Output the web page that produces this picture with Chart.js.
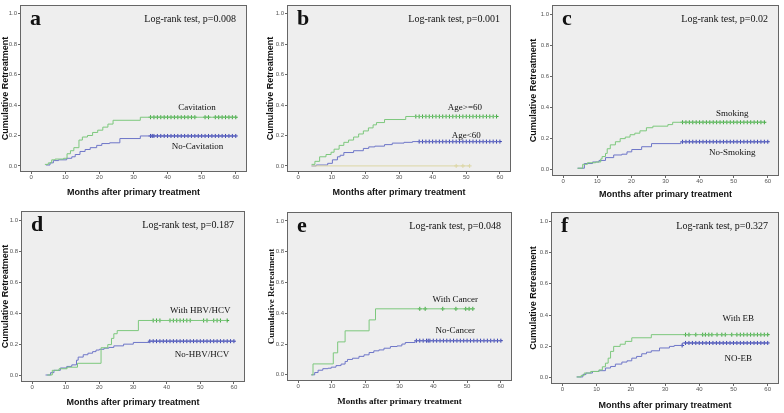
<!DOCTYPE html>
<html>
<head>
<meta charset="utf-8">
<script src="https://cdn.jsdelivr.net/npm/chart.js@4.4.0/dist/chart.umd.min.js"></script>
<style>
  html, body { margin: 0; padding: 0; background: #fff; }
  #wrap { position: relative; width: 784px; height: 413px; overflow: hidden; }
  #wrap canvas { position: absolute; }
</style>
</head>
<body>
<div id="wrap">
  <canvas id="pa"></canvas>
  <canvas id="pb"></canvas>
  <canvas id="pc"></canvas>
  <canvas id="pd"></canvas>
  <canvas id="pe"></canvas>
  <canvas id="pf"></canvas>
</div>
<script>
// ============================================
// DATA (months after primary treatment / cumulative retreatment)
// ============================================
const xTicks = [0, 10, 20, 30, 40, 50, 60];
const yTicks = [0, 0.2, 0.4, 0.6, 0.8, 1.0];

// a - cavitation
const cavTimes = [4, 5, 6, 7, 9.5, 10.5, 11.5, 12.5, 14, 15, 16.5, 18, 19.5, 21, 22.5, 24, 32, 60];
const cavCum = [0.01, 0.02, 0.04, 0.045, 0.05, 0.08, 0.1, 0.12, 0.17, 0.19, 0.2, 0.22, 0.235, 0.255, 0.275, 0.3, 0.32, 0.32];
const cavCensor = [35, 36, 37, 38, 39, 40, 41, 42, 43, 44, 45, 46, 47, 48, 51, 52, 54, 55, 56, 57, 58, 59, 60];
const noCavTimes = [4.3, 5.5, 6.5, 8, 10.4, 11.9, 12.9, 14.3, 15.8, 17.3, 19.2, 20.7, 23, 26, 32, 60];
const noCavCum = [0.006, 0.02, 0.035, 0.04, 0.05, 0.06, 0.075, 0.095, 0.108, 0.12, 0.135, 0.147, 0.152, 0.18, 0.197, 0.197];
const noCavCensor = [35, 35.5, 36, 37, 38, 39, 40, 41, 42, 43, 44, 45, 46, 47, 48, 49, 50, 51, 52, 53, 54, 55, 56, 57, 58, 59, 60];

// b - age
const oldTimes = [4, 5, 6.4, 8.3, 9.8, 10.7, 12.2, 13.6, 15, 16.5, 18, 19.4, 20.9, 22.3, 23.3, 25.7, 32, 59];
const oldCum = [0.01, 0.03, 0.06, 0.075, 0.09, 0.11, 0.135, 0.155, 0.17, 0.19, 0.21, 0.23, 0.25, 0.27, 0.285, 0.305, 0.325, 0.325];
const oldCensor = [35, 36, 37, 38, 39, 40, 41, 42, 43, 44, 45, 46, 47, 48, 49, 50, 51, 52, 53, 54, 55, 56, 57, 58, 59];
const youngTimes = [4, 5.4, 8.8, 10.2, 11.7, 12.5, 13.6, 16.5, 19.4, 21, 22.8, 25.7, 28, 31.5, 34, 60];
const youngCum = [0, 0.006, 0.017, 0.04, 0.06, 0.07, 0.088, 0.1, 0.115, 0.125, 0.13, 0.14, 0.15, 0.155, 0.16, 0.16];
const youngCensor = [36, 37, 38, 39, 40, 41, 42, 43, 44, 45, 46, 47, 48, 49, 50, 51, 52, 53, 54, 55, 56, 57, 58, 59, 60];
const otherTimes = [4, 51];
const otherCum = [0, 0];
const otherCensor = [47, 49, 51];

// c - smoking
const smokeTimes = [4.2, 5.7, 7.1, 9.5, 11, 11.4, 12.4, 12.9, 13.8, 15.3, 16.7, 18.2, 19.6, 21, 22.5, 24.4, 26.3, 30.7, 32.1, 59];
const smokeCum = [0.01, 0.035, 0.045, 0.05, 0.07, 0.085, 0.105, 0.135, 0.16, 0.18, 0.2, 0.21, 0.225, 0.235, 0.25, 0.27, 0.28, 0.29, 0.305, 0.305];
const smokeCensor = [35, 36, 37, 38, 39, 40, 41, 42, 43, 44, 45, 46, 47, 48, 49, 50, 51, 52, 53, 54, 55, 56, 57, 58, 59];
const noSmokeTimes = [4.2, 6.2, 8.6, 10.5, 12.4, 14.8, 17.2, 18.7, 20.1, 23, 25.9, 34.5, 60];
const noSmokeCum = [0.01, 0.04, 0.05, 0.06, 0.078, 0.095, 0.1, 0.115, 0.13, 0.148, 0.168, 0.18, 0.18];
const noSmokeCensor = [35, 36, 37, 38, 39, 40, 41, 42, 43, 44, 45, 46, 47, 48, 49, 50, 51, 52, 53, 54, 55, 56, 57, 58, 59, 60];

// d - HBV/HCV
const hbvTimes = [4.5, 6, 8, 10.4, 13.5, 20.5, 22.5, 23.6, 24.3, 25.3, 31.6, 58];
const hbvCum = [0.005, 0.035, 0.045, 0.055, 0.08, 0.18, 0.2, 0.24, 0.27, 0.29, 0.355, 0.355];
const hbvCensor = [36, 37, 38, 41, 42, 43, 44, 45, 46, 47, 51, 52, 54, 55, 56, 58];
const noHbvTimes = [4, 5.5, 6.5, 8.4, 10.3, 11.8, 13.2, 13.7, 15.2, 16.6, 18, 19, 20, 21.4, 22.8, 24.3, 27.2, 30.1, 35, 60];
const noHbvCum = [0.005, 0.02, 0.035, 0.05, 0.06, 0.07, 0.1, 0.12, 0.135, 0.145, 0.155, 0.165, 0.17, 0.177, 0.182, 0.192, 0.203, 0.214, 0.222, 0.222];
const noHbvCensor = [35, 36, 37, 38, 39, 40, 41, 42, 43, 44, 45, 46, 47, 48, 49, 50, 51, 52, 53, 54, 55, 56, 57, 58, 59, 60];

// e - cancer
const cancerTimes = [3.9, 4.4, 10.4, 11.7, 13.9, 21, 22.9, 52];
const cancerCum = [0, 0.071, 0.143, 0.214, 0.286, 0.357, 0.429, 0.429];
const cancerCensor = [36, 37.6, 42.8, 46.7, 49.6, 50.6, 51.7];
const noCancerTimes = [3.9, 4.9, 5.9, 7.3, 8.8, 9.8, 11.2, 12.7, 13.9, 14.6, 16.1, 18, 19.5, 21, 22.4, 23.9, 25.4, 27.3, 29.3, 30.7, 31.7, 34.6, 60];
const noCancerCum = [0, 0.015, 0.03, 0.04, 0.043, 0.05, 0.06, 0.07, 0.087, 0.1, 0.108, 0.12, 0.13, 0.145, 0.156, 0.162, 0.173, 0.184, 0.188, 0.2, 0.21, 0.222, 0.222];
const noCancerCensor = [35, 36, 37, 38, 38.5, 39, 40, 41, 42, 43, 44, 45, 46, 47, 48, 49, 50, 51, 52, 53, 54, 55, 56, 57, 58, 59, 60];

// f - EB
const ebTimes = [4.2, 5.5, 6.4, 8.3, 10.7, 11.7, 12.6, 13.4, 14.1, 15, 16.9, 18.4, 20.3, 26, 60];
const ebCum = [0.005, 0.015, 0.03, 0.04, 0.05, 0.07, 0.093, 0.125, 0.168, 0.2, 0.214, 0.232, 0.255, 0.275, 0.275];
const ebCensor = [36, 37, 39, 41, 41.8, 42.8, 43.7, 45.2, 46.6, 47.6, 49.5, 51, 52, 53, 54, 55, 56, 57, 58, 59, 60];
const noEbTimes = [4.2, 6, 6.9, 8.8, 10.7, 12.6, 14.1, 15.5, 17.4, 18.9, 20.3, 21.7, 23.2, 24.6, 26, 28.4, 31.3, 32.7, 35.1, 60];
const noEbCum = [0.005, 0.02, 0.03, 0.04, 0.045, 0.062, 0.072, 0.087, 0.1, 0.108, 0.125, 0.136, 0.153, 0.163, 0.172, 0.19, 0.2, 0.206, 0.222, 0.222];
const noEbCensor = [35, 36, 37, 38, 39, 40, 41, 42, 43, 44, 45, 46, 47, 48, 49, 50, 51, 52, 53, 54, 55, 56, 57, 58, 59, 60];

// ============================================
// STYLE
// ============================================
const SANS = '"Liberation Sans", Arial, sans-serif';
const SERIF = '"Liberation Serif", "Times New Roman", serif';
const GREEN = 'rgb(125, 200, 125)';
const GREEN_MARK = 'rgb(60, 165, 60)';
const BLUE = 'rgb(110, 118, 200)';
const BLUE_MARK = 'rgb(55, 65, 175)';
const KHAKI = 'rgb(220, 214, 165)';
const PLOT_BG = '#eeeeee';
const BOX = '#666';

// value of the step curve at time t
function stepAt(times, cum, t) {
  let v = cum[0];
  for (let i = 0; i < times.length; i++) {
    if (times[i] <= t) v = cum[i];
  }
  return v;
}

// ============================================
// PANEL DECORATION PLUGIN
// ============================================
const panelDecor = {
  id: 'panelDecor',
  beforeDraw(chart) {
    const { ctx, chartArea: a } = chart;
    ctx.save();
    ctx.fillStyle = PLOT_BG;
    ctx.fillRect(a.left, a.top, a.right - a.left, a.bottom - a.top);
    ctx.restore();
  },
  afterDraw(chart, args, opts) {
    const { ctx, chartArea: a, scales } = chart;
    ctx.save();
    ctx.strokeStyle = BOX;
    ctx.lineWidth = 1;
    ctx.strokeRect(a.left + 0.5, a.top + 0.5, a.right - a.left - 1, a.bottom - a.top - 1);

    ctx.fillStyle = '#111';
    ctx.textBaseline = 'alphabetic';
    ctx.font = 'bold 22px ' + SERIF;
    ctx.textAlign = 'left';
    ctx.fillText(opts.letter, a.left + 10, a.top + 20);

    ctx.font = '10px ' + SERIF;
    ctx.textAlign = 'right';
    ctx.fillText(opts.pText, a.right - 11, a.top + 17);

    ctx.font = '9px ' + SERIF;
    ctx.textAlign = 'center';
    ctx.textBaseline = 'middle';
    opts.labels.forEach(l => {
      ctx.fillText(l.text, scales.x.getPixelForValue(l.x), scales.y.getPixelForValue(l.y));
    });
    ctx.restore();
  }
};

// ============================================
// PANEL BUILDER
// ============================================
function buildPanel(p) {
  const canvas = document.getElementById(p.id);
  canvas.width = p.w;
  canvas.height = p.h;
  canvas.style.left = p.x + 'px';
  canvas.style.top = p.y + 'px';

  const datasets = [];
  p.series.forEach(s => {
    datasets.push({
      data: s.times.map((t, i) => ({ x: t, y: s.cum[i] })),
      stepped: 'before',
      borderColor: s.color,
      borderWidth: 1,
      pointRadius: 0,
      fill: false
    });
    datasets.push({
      data: s.censor.map(t => ({ x: t, y: stepAt(s.times, s.cum, t) })),
      showLine: false,
      pointStyle: 'cross',
      pointRadius: 2,
      pointBorderWidth: 1,
      pointBorderColor: s.mark,
      pointBackgroundColor: s.mark
    });
  });

  const titleFont = p.serifTitles ? SERIF : SANS;
  const box = p.box;

  new Chart(canvas, {
    type: 'line',
    data: { datasets },
    plugins: [panelDecor],
    options: {
      responsive: false,
      animation: false,
      devicePixelRatio: 1,
      layout: {
        padding: { left: 0, top: box.top - p.y, right: p.x + p.w - box.right, bottom: 0 }
      },
      plugins: {
        legend: { display: false },
        tooltip: { enabled: false },
        panelDecor: { letter: p.letter, pText: p.pText, labels: p.labels }
      },
      scales: {
        x: {
          type: 'linear',
          min: -3.3,
          max: 63.3,
          afterBuildTicks: s => { s.ticks = xTicks.map(v => ({ value: v })); },
          afterFit: s => { s.height = p.y + p.h - box.bottom; },
          border: { display: false },
          grid: { drawOnChartArea: false, drawTicks: true, tickLength: 2, color: '#666' },
          ticks: { color: '#555', font: { size: 6, family: SANS }, padding: 0, maxRotation: 0 },
          title: {
            display: true,
            text: 'Months after primary treatment',
            color: '#111',
            font: { size: 9, weight: 'bold', family: titleFont },
            padding: { top: 0, bottom: p.xTitlePad }
          }
        },
        y: {
          min: -0.04,
          max: 1.058,
          afterBuildTicks: s => { s.ticks = yTicks.map(v => ({ value: v })); },
          afterFit: s => { s.width = box.left - p.x; },
          border: { display: false },
          grid: { drawOnChartArea: false, drawTicks: true, tickLength: 2, color: '#666' },
          ticks: {
            color: '#555',
            font: { size: 6, family: SANS },
            padding: 1,
            callback: v => v.toFixed(1)
          },
          title: {
            display: true,
            text: 'Cumulative Retreatment',
            color: '#111',
            font: { size: 9, weight: 'bold', family: titleFont },
            padding: { top: p.yTitlePad, bottom: 0 }
          }
        }
      }
    }
  });
}

// ============================================
// PANELS
// ============================================
const panels = [
  {
    id: 'pa', x: 0, y: 0, w: 262, h: 205, box: { left: 20, right: 247, top: 3, bottom: 172 },
    letter: 'a', pText: 'Log-rank test, p=0.008', xTitlePad: 6.6, yTitlePad: 0,
    series: [
      { times: cavTimes, cum: cavCum, censor: cavCensor, color: GREEN, mark: GREEN_MARK },
      { times: noCavTimes, cum: noCavCum, censor: noCavCensor, color: BLUE, mark: BLUE_MARK }
    ],
    labels: [{ text: 'Cavitation', x: 48.6, y: 0.38 }, { text: 'No-Cavitation', x: 48.8, y: 0.125 }]
  },
  {
    id: 'pb', x: 262, y: 0, w: 262, h: 205, box: { left: 287, right: 511, top: 2, bottom: 172 },
    letter: 'b', pText: 'Log-rank test, p=0.001', xTitlePad: 6.6, yTitlePad: 3,
    series: [
      { times: otherTimes, cum: otherCum, censor: otherCensor, color: KHAKI, mark: KHAKI },
      { times: oldTimes, cum: oldCum, censor: oldCensor, color: GREEN, mark: GREEN_MARK },
      { times: youngTimes, cum: youngCum, censor: youngCensor, color: BLUE, mark: BLUE_MARK }
    ],
    labels: [{ text: 'Age>=60', x: 49.6, y: 0.38 }, { text: 'Age<60', x: 50, y: 0.2 }]
  },
  {
    id: 'pc', x: 524, y: 0, w: 260, h: 205, box: { left: 552, right: 780, top: 3, bottom: 176 },
    letter: 'c', pText: 'Log-rank test, p=0.02', xTitlePad: 4.6, yTitlePad: 4,
    series: [
      { times: smokeTimes, cum: smokeCum, censor: smokeCensor, color: GREEN, mark: GREEN_MARK },
      { times: noSmokeTimes, cum: noSmokeCum, censor: noSmokeCensor, color: BLUE, mark: BLUE_MARK }
    ],
    labels: [{ text: 'Smoking', x: 49.6, y: 0.36 }, { text: 'No-Smoking', x: 49.6, y: 0.108 }]
  },
  {
    id: 'pd', x: 0, y: 205, w: 262, h: 208, box: { left: 21, right: 245, top: 211, bottom: 382 },
    letter: 'd', pText: 'Log-rank test, p=0.187', xTitlePad: 4.6, yTitlePad: 0,
    series: [
      { times: hbvTimes, cum: hbvCum, censor: hbvCensor, color: GREEN, mark: GREEN_MARK },
      { times: noHbvTimes, cum: noHbvCum, censor: noHbvCensor, color: BLUE, mark: BLUE_MARK }
    ],
    labels: [{ text: 'With HBV/HCV', x: 50, y: 0.42 }, { text: 'No-HBV/HCV', x: 50.5, y: 0.135 }]
  },
  {
    id: 'pe', x: 262, y: 205, w: 262, h: 208, box: { left: 287, right: 512, top: 212, bottom: 381 },
    letter: 'e', pText: 'Log-rank test, p=0.048', xTitlePad: 5.6, yTitlePad: 4, serifTitles: true,
    series: [
      { times: cancerTimes, cum: cancerCum, censor: cancerCensor, color: GREEN, mark: GREEN_MARK },
      { times: noCancerTimes, cum: noCancerCum, censor: noCancerCensor, color: BLUE, mark: BLUE_MARK }
    ],
    labels: [{ text: 'With Cancer', x: 46.5, y: 0.49 }, { text: 'No-Cancer', x: 46.5, y: 0.29 }]
  },
  {
    id: 'pf', x: 524, y: 205, w: 260, h: 208, box: { left: 551, right: 780, top: 212, bottom: 384 },
    letter: 'f', pText: 'Log-rank test, p=0.327', xTitlePad: 1.6, yTitlePad: 4,
    series: [
      { times: ebTimes, cum: ebCum, censor: ebCensor, color: GREEN, mark: GREEN_MARK },
      { times: noEbTimes, cum: noEbCum, censor: noEbCensor, color: BLUE, mark: BLUE_MARK }
    ],
    labels: [{ text: 'With EB', x: 51.4, y: 0.376 }, { text: 'NO-EB', x: 51.4, y: 0.12 }]
  }
];

panels.forEach(buildPanel);
</script>
</body>
</html>
